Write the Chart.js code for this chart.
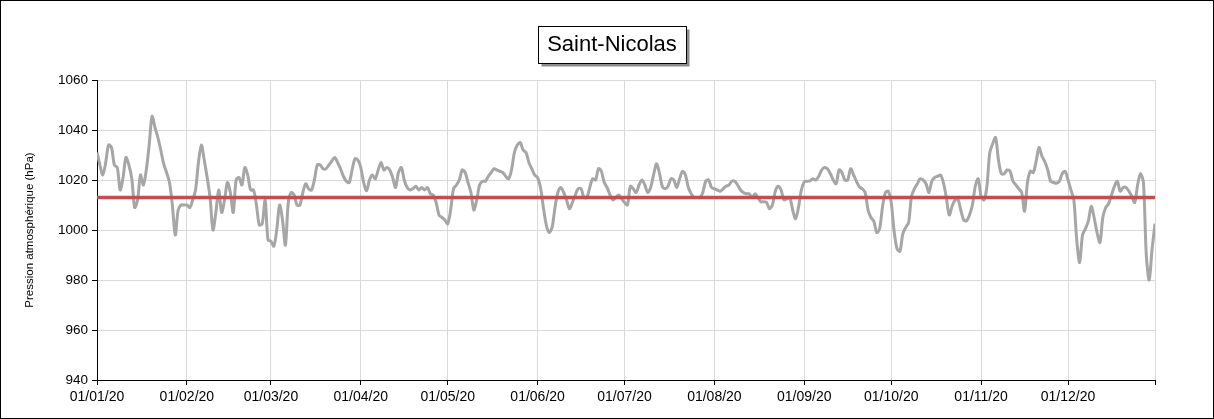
<!DOCTYPE html>
<html lang="fr">
<head>
<meta charset="utf-8">
<title>Saint-Nicolas</title>
<script src="https://cdn.jsdelivr.net/npm/chart.js@4.4.1/dist/chart.umd.min.js"></script>
<style>
    html, body { margin: 0; padding: 0; background: #fff; }
    canvas { display: block; }
</style>
</head>
<body>
<canvas id="pression" width="1214" height="419"></canvas>
<script>
// ============================================
// Saint-Nicolas — pression atmosphérique 2020
// ============================================

const STATION = 'Saint-Nicolas';
const Y_TITLE = 'Pression atmosphérique (hPa)';
const PRESSION_REF = 1013;

// tick labels
const monthTicks = ['01/01/20', '01/02/20', '01/03/20', '01/04/20', '01/05/20', '01/06/20',
    '01/07/20', '01/08/20', '01/09/20', '01/10/20', '01/11/20', '01/12/20'];
const yTicks = [940, 960, 980, 1000, 1020, 1040, 1060];

// daily values (hPa)
const janvier = [1031, 1026, 1022, 1027, 1034, 1033, 1026, 1025, 1016, 1021, 1029, 1026, 1020.5, 1009, 1012, 1022,
    1018, 1024, 1034, 1045.5, 1041, 1037, 1032, 1026.5, 1023, 1019, 1010, 998, 1008, 1010, 1010];
const fevrier = [1010, 1009, 1012, 1016, 1027, 1034, 1028, 1021, 1013, 1000, 1007, 1016, 1007, 1012, 1019, 1015,
    1007, 1020, 1021, 1018, 1025, 1022, 1016, 1016, 1010, 1002, 1002.5, 1012, 996];
const mars = [995.5, 993.5, 1000, 1010, 1004, 994, 1011, 1015, 1014, 1010, 1010, 1015, 1018.5, 1016.5, 1016, 1020,
    1026, 1026, 1024.5, 1024.5, 1026, 1027.5, 1029, 1027, 1024.5, 1021.5, 1019.5, 1019, 1024, 1028.5, 1028];
const avril = [1025, 1019, 1015.7, 1020, 1022, 1020.5, 1024, 1027, 1024, 1025, 1024, 1021, 1017, 1023, 1025,
    1020, 1017, 1016, 1016.5, 1017.5, 1016, 1017, 1016, 1017, 1014.5, 1014, 1011, 1006, 1005, 1004];
const mai = [1002.5, 1008, 1016.5, 1018, 1020, 1024, 1023, 1019, 1015, 1008, 1012, 1018, 1019.5, 1019.5, 1021.5,
    1023, 1024.5, 1024, 1023.5, 1023, 1021.5, 1020.5, 1024, 1031, 1034, 1035, 1032, 1031, 1027, 1024.5, 1022];
const juin = [1021, 1017, 1009, 1002, 999, 1001, 1009, 1015, 1017, 1015, 1012, 1008.5, 1011, 1014, 1016.5,
    1016.5, 1013, 1013, 1017, 1020.5, 1020, 1024.5, 1023.5, 1019, 1017, 1014, 1012, 1013, 1014, 1012.5];
const juillet = [1011, 1010, 1017.5, 1016.5, 1015, 1018, 1020, 1018, 1015, 1017, 1022, 1026.5, 1023, 1017.5,
    1016.5, 1017.5, 1020.5, 1020, 1017, 1020.5, 1023.5, 1022, 1017, 1014.5, 1013, 1013, 1013, 1015, 1019.5, 1020, 1017];
const aout = [1016.5, 1016, 1015.5, 1016.5, 1017.5, 1018, 1019.5, 1019.5, 1018, 1016, 1015, 1014.5, 1014.5, 1013,
    1014.5, 1013, 1011.3, 1011.3, 1011, 1008.5, 1010, 1015.5, 1017.5, 1016, 1012, 1012.5, 1013, 1008, 1004.5, 1009, 1016];
const septembre = [1019.3, 1019.5, 1019.7, 1020.5, 1020, 1021.5, 1024, 1025, 1024.5, 1022.5, 1020, 1018.5, 1024,
    1023, 1020, 1020, 1024.5, 1022, 1019.5, 1017.3, 1016.5, 1015, 1008, 1005, 1003.5, 999, 1000.5, 1009.3, 1015, 1015.5];
const octobre = [1011, 999.5, 992.5, 991.5, 998.5, 1001, 1003, 1013.5, 1016.5, 1018.5, 1020.5, 1020, 1018.5, 1015,
    1019.5, 1021, 1021.5, 1022, 1019, 1013, 1006, 1009.5, 1012, 1012.3, 1008, 1004, 1003.7, 1006, 1010, 1017.5, 1020.5];
const novembre = [1013.5, 1012, 1017.3, 1031, 1034.5, 1037, 1028, 1022.5, 1022.5, 1024, 1023.5, 1019.5, 1018,
    1016.5, 1015, 1007.5, 1019, 1023.5, 1023, 1027.5, 1033, 1029.5, 1027.3, 1024, 1019.5, 1019, 1018.7, 1019.5, 1022.5, 1023.5];
const decembre = [1020, 1016, 1012, 996, 987, 998, 1000.5, 1003.5, 1009.5, 1005, 999, 995, 1005, 1009, 1010.5, 1014,
    1017.5, 1019.5, 1015.5, 1017, 1017, 1015.5, 1013.5, 1011, 1018, 1022.5, 1019, 990, 980, 992.5, 1002.5];

const pression = [].concat(janvier, fevrier, mars, avril, mai, juin, juillet, aout,
    septembre, octobre, novembre, decembre);

// day number of a dd/mm/yy label, counted from the first one
function dayOf(label) {
    const [d, m, y] = label.split('/').map(Number);
    return Math.round((Date.UTC(2000 + y, m - 1, d) - Date.UTC(2020, 0, 1)) / 86400000);
}

const tickDays = monthTicks.map(dayOf);
const lastDay = pression.length - 1;

const FONT = "'Liberation Sans', Arial, sans-serif";
const GRID_COLOR = '#d9d9d9';
const LINE_COLOR = '#a6a6a6';
const REF_COLOR = '#c0504d';

// Frame round the chart + boxed title with shadow
const chrome = {
    id: 'chrome',
    afterDraw(chart) {
        const { ctx, width, height } = chart;
        ctx.save();
        ctx.strokeStyle = '#000';
        ctx.lineWidth = 1;
        ctx.strokeRect(0.5, 0.5, width - 1, height - 1);

        ctx.font = `22px ${FONT}`;
        const tw = ctx.measureText(STATION).width;
        const cx = 612, cy = 44;
        const bw = Math.round(tw + 18), bh = 37;
        const bx = Math.round(cx - bw / 2) + 0.5, by = Math.round(cy - bh / 2) + 0.5;
        ctx.fillStyle = '#8c8c8c';
        ctx.fillRect(bx + 3, by + 3, bw, bh);
        ctx.fillStyle = '#fff';
        ctx.fillRect(bx, by, bw, bh);
        ctx.strokeStyle = '#000';
        ctx.strokeRect(bx, by, bw, bh);
        ctx.fillStyle = '#000';
        ctx.textAlign = 'center';
        ctx.textBaseline = 'middle';
        ctx.fillText(STATION, cx, cy + 1);
        ctx.restore();
    },
};

new Chart(document.getElementById('pression'), {
    type: 'line',
    data: {
        datasets: [
            {
                label: 'Référence',
                data: [{ x: 0, y: PRESSION_REF }, { x: lastDay, y: PRESSION_REF }],
                borderColor: REF_COLOR,
                borderWidth: 3.5,
                pointRadius: 0,
            },
            {
                label: STATION,
                data: pression.map((v, i) => ({ x: i, y: v })),
                borderColor: LINE_COLOR,
                borderWidth: 3,
                pointRadius: 0,
                tension: 0.3,
            },
        ],
    },
    options: {
        responsive: false,
        animation: false,
        layout: { padding: { top: 80, right: 59, left: 0, bottom: 0 } },
        plugins: {
            legend: { display: false },
            title: { display: false },
            tooltip: { enabled: false },
        },
        scales: {
            x: {
                type: 'linear',
                min: 0,
                max: lastDay,
                afterBuildTicks(scale) {
                    scale.ticks = tickDays.concat(lastDay).map(v => ({ value: v }));
                },
                afterFit(scale) { scale.height = 39; },
                ticks: {
                    autoSkip: false,
                    maxRotation: 0,
                    padding: 4,
                    color: '#000',
                    font: { family: FONT, size: 14 },
                    callback: (value) => {
                        const i = tickDays.indexOf(value);
                        return i >= 0 ? monthTicks[i] : '';
                    },
                },
                grid: { color: GRID_COLOR, tickColor: '#000', tickLength: 5 },
                border: { display: true, color: '#000', width: 1 },
            },
            y: {
                min: yTicks[0],
                max: yTicks[yTicks.length - 1],
                afterBuildTicks(scale) {
                    scale.ticks = yTicks.map(v => ({ value: v }));
                },
                afterFit(scale) { scale.width = 97; },
                ticks: {
                    padding: 4,
                    color: '#000',
                    font: { family: FONT, size: 13.5 },
                    callback: (value) => String(value),
                },
                grid: { color: GRID_COLOR, tickColor: '#000', tickLength: 5 },
                border: { display: true, color: '#000', width: 1 },
                title: {
                    display: true,
                    text: Y_TITLE,
                    color: '#000',
                    font: { family: FONT, size: 11.5 },
                    padding: { top: 23, bottom: 0 },
                },
            },
        },
    },
    plugins: [chrome],
});
</script>
</body>
</html>
